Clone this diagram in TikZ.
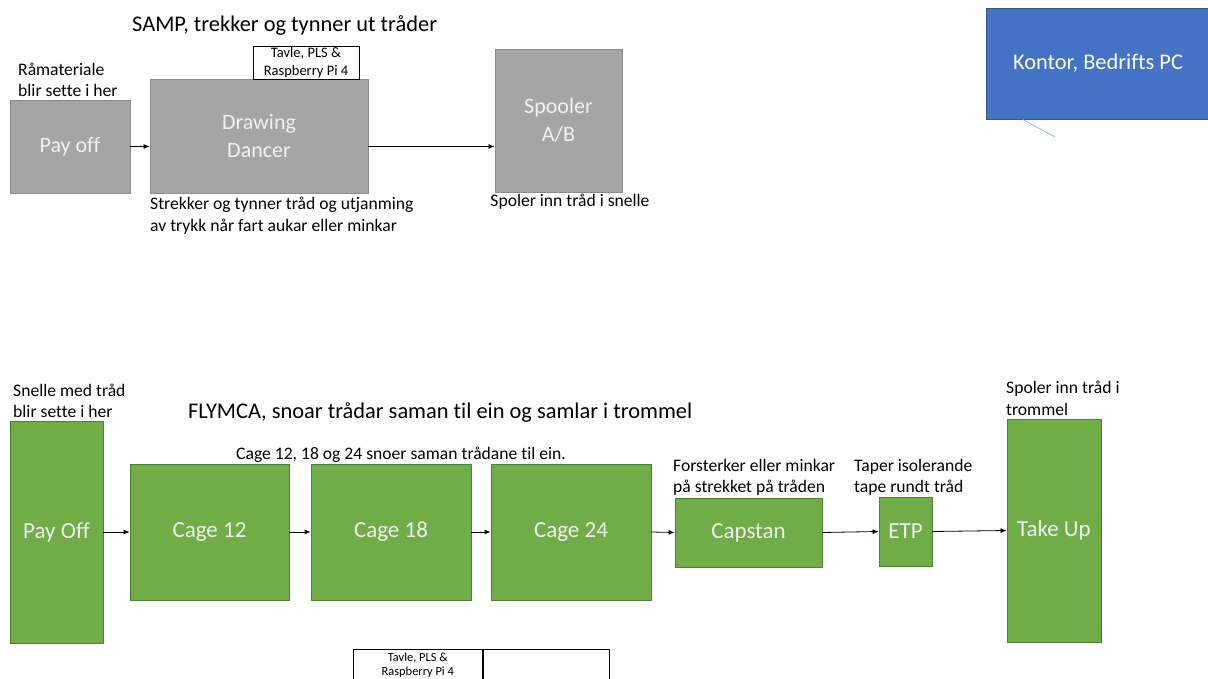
\documentclass[tikz,border=0pt]{standalone}
\usepackage{fontspec}
\setmainfont{Carlito}[Ligatures=NoCommon]
\usetikzlibrary{arrows.meta,calc}
\definecolor{grayfill}{HTML}{A5A5A5}
\definecolor{grayline}{HTML}{8C8C8C}
\definecolor{greenfill}{HTML}{70AD47}
\definecolor{greenline}{HTML}{507E32}
\definecolor{bluefill}{HTML}{4472C4}
\definecolor{blueline}{HTML}{2F528F}
\definecolor{thinblue}{HTML}{8FAADC}
\begin{document}
\begin{tikzpicture}[x=1pt,y=-1pt,
  box/.style={draw, line width=0.8pt, inner sep=0pt, align=center},
  graybox/.style={box, draw=grayline, fill=grayfill, text=white!95!black, font=\fontsize{22}{28}\selectfont},
  greenbox/.style={box, draw=greenline, fill=greenfill, text=white!95!black, font=\fontsize{23}{27}\selectfont},
  bluebox/.style={box, draw=blueline, fill=bluefill, text=white, font=\fontsize{22.4}{26}\selectfont},
  lbl/.style={inner sep=0pt, anchor=base west, font=\fontsize{17.6}{21}\selectfont},
  titletext/.style={inner sep=0pt, anchor=base west, font=\fontsize{22.4}{26}\selectfont},
  smallbox/.style={draw=black, line width=0.6pt, fill=white, inner sep=0pt, align=center},
  arr/.style={-{Latex[length=6pt,width=5pt]}, line width=0.8pt, black},
]
\clip (0,0) rectangle (1208,679);
\fill[white] (0,0) rectangle (1208,679);

% ---------- SAMP ----------
\node[titletext] (t1) at (132,32) {SAMP, trekker og tynner ut tråder};
\node[lbl] (r1) at (18,76) {Råmateriale};
\node[lbl] (r2) at (18,97) {blir sette i her};
\node[graybox, minimum width=120pt, minimum height=93pt] (pay1) at (70,146.5) {Pay off};
\node[graybox, minimum width=218pt, minimum height=114pt] (dd) at (259,136) {Drawing\\Dancer};
\node[smallbox, minimum width=106pt, minimum height=33pt, font=\fontsize{14.5}{17.5}\selectfont] (tav1) at (306,62.5) {Tavle, PLS \&\\Raspberry Pi 4};
\node[graybox, minimum width=127pt, minimum height=143pt] (spool) at (558.5,120.5) {Spooler\\A/B};
\node[lbl] (s1) at (150,210) {Strekker og tynner tråd og utjanming};
\node[lbl] (s2) at (150,232) {av trykk når fart aukar eller minkar};
\node[lbl, anchor=base] (sp1) at (570,207) {Spoler inn tråd i snelle};

\draw[arr] (pay1.east) -- (dd.west |- pay1.east);
\draw[arr] (dd.east |- pay1.east) -- (spool.west |- pay1.east);

% ---------- Kontor ----------
\node[bluebox, minimum width=224pt, minimum height=111pt] (kontor) at (1098,63.5) {Kontor, Bedrifts PC};
\coordinate (kend) at (1055,137);
\draw[thinblue, line width=0.7pt] ($(kontor.south west)+(37,0)$) -- (kend);

% ---------- FLYMCA ----------
\node[lbl] (sn1) at (13,396) {Snelle med tråd};
\node[lbl] (sn2) at (13,417) {blir sette i her};
\node[titletext] (t2) at (188,418) {FLYMCA, snoar trådar saman til ein og samlar i trommel};
\node[lbl] (cg) at (236,459) {Cage 12, 18 og 24 snoer saman trådane til ein.};

\node[greenbox, minimum width=93pt, minimum height=222pt] (pay2) at (56.5,532) {Pay Off};
\node[greenbox, minimum width=159pt, minimum height=136pt] (c12) at (209.5,532) {Cage 12};
\node[greenbox, minimum width=160pt, minimum height=136pt] (c18) at (391,532) {Cage 18};
\node[greenbox, minimum width=160pt, minimum height=136pt] (c24) at (571,532) {Cage 24};
\node[greenbox, minimum width=147pt, minimum height=69pt] (cap) at (748.5,532.5) {Capstan};
\node[greenbox, minimum width=53pt, minimum height=69pt] (etp) at (905.5,531.5) {ETP};
\node[greenbox, minimum width=94pt, minimum height=223pt] (take) at (1054,530.5) {Take Up};

\node[lbl] (f1) at (673,471) {Forsterker eller minkar};
\node[lbl] (f2) at (673,492) {på strekket på tråden};
\node[lbl] (tp1) at (854,471) {Taper isolerande};
\node[lbl] (tp2) at (854,492) {tape rundt tråd};
\node[lbl] (su1) at (1006,393) {Spoler inn tråd i};
\node[lbl] (su2) at (1006,415) {trommel};

\draw[arr] (pay2.east) -- (c12.west);
\draw[arr] (c12.east) -- (c18.west);
\draw[arr] (c18.east) -- (c24.west);
\draw[arr] (c24.east) -- (cap.west);
\draw[arr] (cap.east) -- (etp.west);
\draw[arr] (etp.east) -- (take.west);

% ---------- bottom panel ----------
\node[smallbox, minimum width=129pt, minimum height=32pt, anchor=north west, font=\fontsize{12.4}{14}\selectfont] (tav2) at (353,649) {Tavle, PLS \&\\Raspberry Pi 4};
\node[smallbox, minimum width=126pt, minimum height=32pt, anchor=north west] (tav3) at (tav2.north east) {};
\end{tikzpicture}
\end{document}
